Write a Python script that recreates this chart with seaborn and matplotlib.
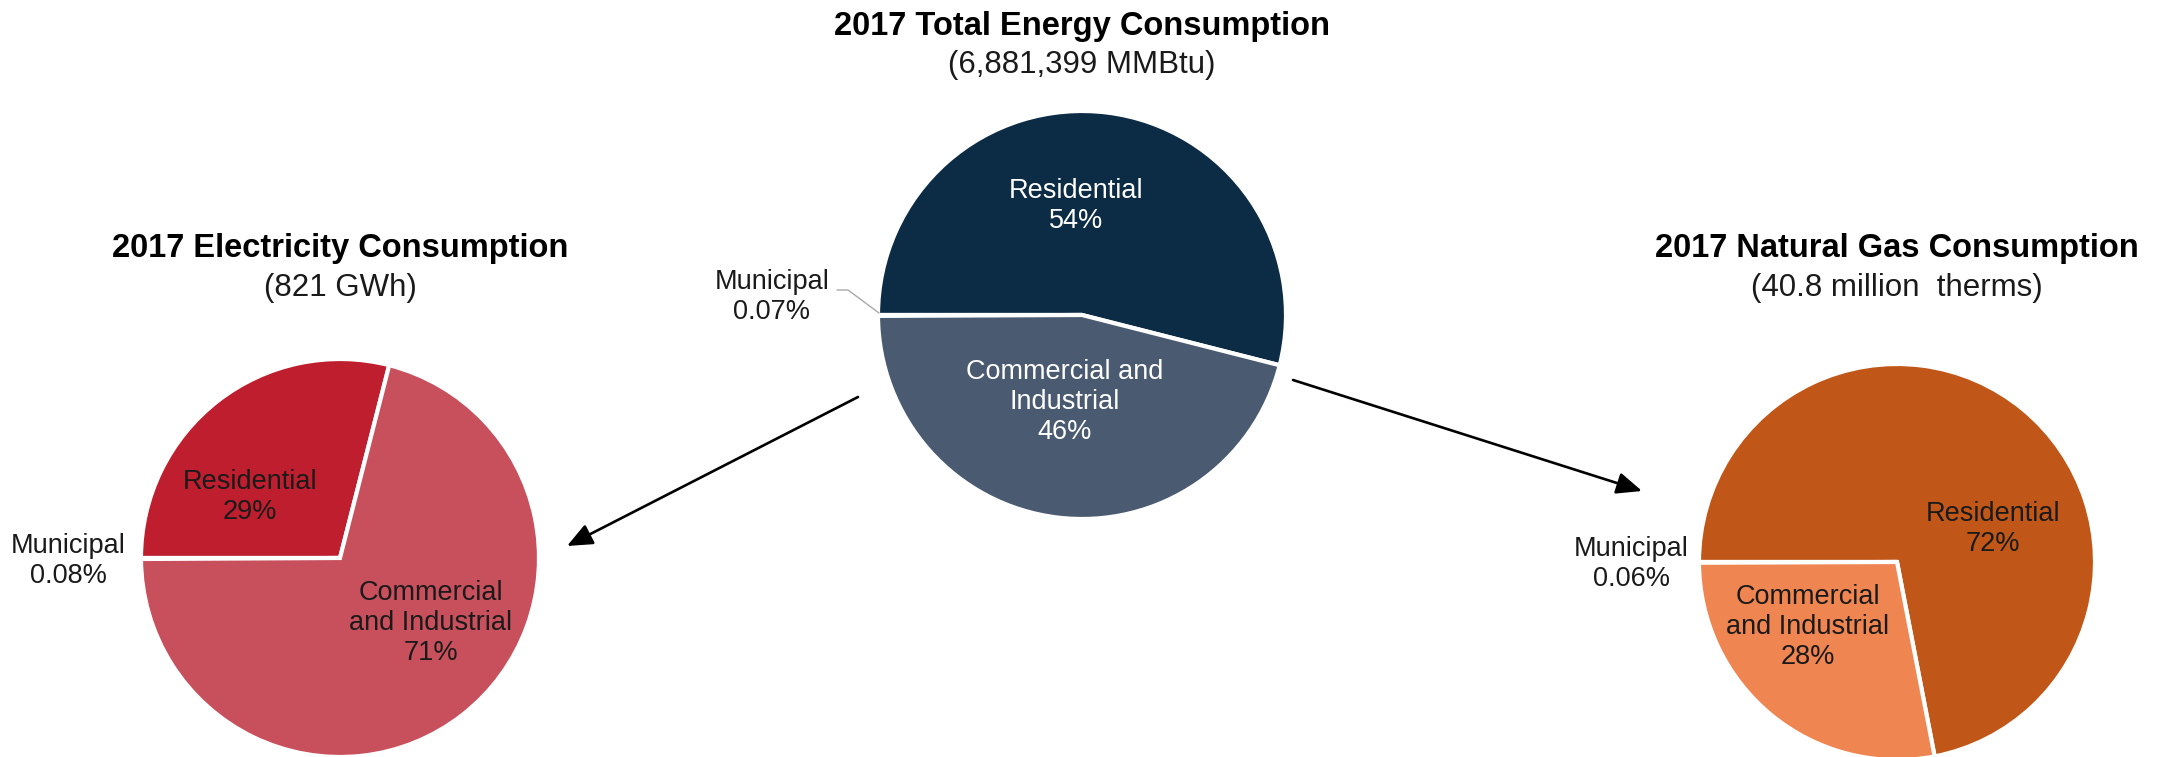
import matplotlib
matplotlib.use("Agg")
import matplotlib.pyplot as plt
import seaborn as sns

# ---------------- data ----------------
categories = ["Residential", "Municipal", "Commercial and Industrial"]

elec_values = [29, 0.08, 71]
total_values = [54, 0.07, 46]
gas_values = [72, 0.06, 28]

elec_labels = ["Residential\n29%", "Municipal\n0.08%", "Commercial\nand Industrial\n71%"]
total_labels = ["Residential\n54%", "Municipal\n0.07%", "Commercial and\nIndustrial\n46%"]
gas_labels = ["Residential\n72%", "Municipal\n0.06%", "Commercial\nand Industrial\n28%"]

elec_title = "2017 Electricity Consumption"
elec_sub = "(821 GWh)"
total_title = "2017 Total Energy Consumption"
total_sub = "(6,881,399 MMBtu)"
gas_title = "2017 Natural Gas Consumption"
gas_sub = "(40.8 million  therms)"

elec_colors = ["#BE1E2D", "#9E9E9E", "#C8505C"]
total_colors = ["#0C2B45", "#9E9E9E", "#4A5A70"]
gas_colors = ["#C05718", "#9E9E9E", "#EF8550"]

# ---------------- style ----------------
sns.set_theme(style="white")
plt.rcParams["font.family"] = ["Liberation Sans", "DejaVu Sans"]

W, H = 2167, 757
fig = plt.figure(figsize=(W / 100, H / 100), dpi=100)
fig.patch.set_facecolor("white")

LIM = 1.1


def add_pie(values, colors, cx, cy, r):
    R = r + 2
    half = R * LIM
    ax = fig.add_axes([(cx - half) / W, (H - cy - half) / H, 2 * half / W, 2 * half / H])
    start = 180 - 360 * values[0] / sum(values)
    ax.pie(values, colors=sns.color_palette(colors), startangle=start, counterclock=True,
           radius=1.0, wedgeprops=dict(edgecolor="white", linewidth=3.0))
    ax.set_xlim(-LIM, LIM)
    ax.set_ylim(-LIM, LIM)
    ax.set_aspect("equal", adjustable="box")
    ax.axis("off")
    return ax


add_pie(elec_values, elec_colors, 340, 558, 197)
add_pie(total_values, total_colors, 1082, 315, 202)
add_pie(gas_values, gas_colors, 1897, 562, 196)

# overlay in pixel coordinates
ov = fig.add_axes([0, 0, 1, 1], zorder=10)
ov.set_xlim(0, W)
ov.set_ylim(H, 0)
ov.axis("off")
ov.patch.set_alpha(0)

TXT = "#1a1a1a"
LBL = 19.5
TS = 23.5
SS = 22.5

# titles
for title, sub, x, yt, ys in [(elec_title, elec_sub, 340, 257, 296),
                              (total_title, total_sub, 1082, 35, 73),
                              (gas_title, gas_sub, 1897, 257, 296)]:
    ov.text(x, yt, title, ha="center", va="baseline", fontsize=TS, fontweight="bold", color="black")
    ov.text(x, ys, sub, ha="center", va="baseline", fontsize=SS, color=TXT)

# slice labels
def lab(x, y, s, c):
    ov.text(x, y, s, ha="center", va="center", fontsize=LBL, color=c,
            multialignment="center", linespacing=1.2)

lab(250, 497, elec_labels[0], TXT)
lab(68, 561, elec_labels[1], TXT)
lab(431, 623, elec_labels[2], TXT)

lab(1076, 206, total_labels[0], "white")
lab(772, 297, total_labels[1], TXT)
lab(1065, 402, total_labels[2], "white")

lab(1993, 529, gas_labels[0], TXT)
lab(1631, 564, gas_labels[1], TXT)
lab(1808, 627, gas_labels[2], TXT)

# leader line for central Municipal
ov.plot([837, 848, 879], [290, 290, 313], color="#A8A8A8", lw=1.0)

# arrows
arrow_kw = dict(arrowstyle="-|>,head_length=0.7,head_width=0.3", color="black", lw=1.9,
                mutation_scale=22, shrinkA=0, shrinkB=0)
ov.annotate("", xy=(567, 546), xytext=(858, 397), arrowprops=arrow_kw)
ov.annotate("", xy=(1642, 491), xytext=(1293, 380), arrowprops=arrow_kw)

fig.savefig("out.png", dpi=100, facecolor="white")
